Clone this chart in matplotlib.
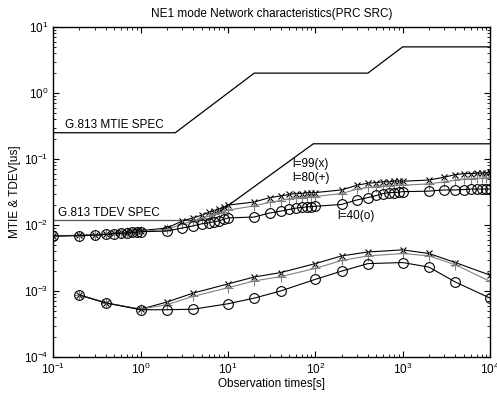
import matplotlib
matplotlib.use('Agg')
import matplotlib.pyplot as plt
import numpy as np

plt.rcParams['font.family'] = ['Liberation Sans', 'DejaVu Sans']

# observation times for MTIE
tau_mtie = [0.1, 0.2, 0.3, 0.4, 0.5, 0.6, 0.7, 0.8, 0.9,
            1, 2, 3, 4, 5, 6, 7, 8, 9,
            10, 20, 30, 40, 50, 60, 70, 80, 90,
            100, 200, 300, 400, 500, 600, 700, 800, 900,
            1000, 2000, 3000, 4000, 5000, 6000, 7000, 8000, 9000, 10000]

mtie_l99 = [0.0068, 0.0070, 0.0071, 0.0073, 0.0075, 0.0077, 0.0078, 0.0080, 0.0081,
            0.0082, 0.0090, 0.0115, 0.0128, 0.0141, 0.0155, 0.0165, 0.0175, 0.0185,
            0.0200, 0.0223, 0.0260, 0.0275, 0.0290, 0.0300, 0.0300, 0.0310, 0.0310,
            0.0310, 0.0340, 0.0400, 0.0430, 0.0440, 0.0450, 0.0450, 0.0460, 0.0460,
            0.0460, 0.0480, 0.0530, 0.0580, 0.0600, 0.0600, 0.0610, 0.0610, 0.0620, 0.0630]

mtie_l80 = [0.0068, 0.0069, 0.0070, 0.0072, 0.0074, 0.0076, 0.0077, 0.0078, 0.0079,
            0.0080, 0.0086, 0.0103, 0.0115, 0.0126, 0.0136, 0.0145, 0.0152, 0.0160,
            0.0168, 0.0195, 0.0220, 0.0235, 0.0250, 0.0260, 0.0260, 0.0270, 0.0270,
            0.0270, 0.0300, 0.0350, 0.0370, 0.0380, 0.0390, 0.0390, 0.0400, 0.0400,
            0.0400, 0.0420, 0.0450, 0.0480, 0.0500, 0.0500, 0.0510, 0.0510, 0.0520, 0.0520]

mtie_l40 = [0.0068, 0.0069, 0.0070, 0.0072, 0.0074, 0.0075, 0.0076, 0.0077, 0.0078,
            0.0079, 0.0081, 0.0090, 0.0097, 0.0104, 0.0108, 0.0112, 0.0116, 0.0122,
            0.0128, 0.0132, 0.0152, 0.0162, 0.0172, 0.0180, 0.0185, 0.0188, 0.0190,
            0.0192, 0.0205, 0.0240, 0.0260, 0.0280, 0.0300, 0.0310, 0.0310, 0.0315,
            0.0320, 0.0326, 0.0340, 0.0340, 0.0345, 0.0350, 0.0350, 0.0350, 0.0350, 0.0350]

# observation times for TDEV
tau_tdev = [0.2, 0.4, 1, 2, 4, 10, 20, 40, 100, 200, 400, 1000, 2000, 4000, 10000]
tdev_l99 = [0.00087, 0.00066, 0.00053, 0.00068, 0.00093, 0.00128, 0.00163, 0.0019,
            0.0026, 0.0034, 0.0039, 0.0042, 0.0037, 0.0027, 0.00174]
tdev_l80 = [0.00087, 0.00066, 0.00053, 0.00062, 0.00083, 0.00112, 0.00142, 0.00165,
            0.0022, 0.0029, 0.0034, 0.0037, 0.0034, 0.0025, 0.00140]
tdev_l40 = [0.00087, 0.00066, 0.00052, 0.00052, 0.00053, 0.00064, 0.00078, 0.0010,
            0.0015, 0.0020, 0.0026, 0.0027, 0.0023, 0.00137, 0.00078]

# G.813 masks
mtie_spec_tau = [0.1, 2.5, 20, 400, 1000, 10000]
mtie_spec_val = [0.25, 0.25, 2.0, 2.0, 5.0, 5.0]
tdev_flat_tau = [0.1, 6]
tdev_flat_val = [0.012, 0.012]
tdev_rise_tau = [6, 95, 10000]
tdev_rise_val = [0.012, 0.17, 0.17]

fig = plt.figure(figsize=(4.97, 4.0), dpi=100)
ax = fig.add_axes([0.107, 0.1075, 0.879, 0.825])

ax.plot(mtie_spec_tau, mtie_spec_val, color='black', lw=0.9)
ax.plot(tdev_flat_tau, tdev_flat_val, color='#555555', lw=0.9)
ax.plot(tdev_rise_tau, tdev_rise_val, color='black', lw=0.9)

# MTIE curves
ax.plot(tau_mtie, mtie_l99, color='black', lw=0.8, marker='x', ms=4.5, mew=0.8)
ax.plot(tau_mtie, mtie_l80, color='gray', lw=0.8, marker='+', ms=6.5, mew=0.8)
ax.plot(tau_mtie, mtie_l40, color='black', lw=0.8, marker='o', ms=7, mew=0.8, mfc='none')

# TDEV curves
ax.plot(tau_tdev, tdev_l99, color='black', lw=0.8, marker='x', ms=4.5, mew=0.8)
ax.plot(tau_tdev, tdev_l80, color='gray', lw=0.8, marker='+', ms=6.5, mew=0.8)
ax.plot(tau_tdev, tdev_l40, color='black', lw=0.8, marker='o', ms=7, mew=0.8, mfc='none')

ax.set_xscale('log')
ax.set_yscale('log')
ax.set_xlim(0.1, 10000)
ax.set_ylim(1e-4, 10)
ax.tick_params(which='both', direction='in', top=True, right=True, labelsize=8.5)
ax.tick_params(which='major', length=4)
ax.tick_params(which='minor', length=2)
for s in ax.spines.values():
    s.set_linewidth(1.0)

ax.text(0.135, 0.29, 'G.813 MTIE SPEC', fontsize=8.5)
ax.text(0.115, 0.0138, 'G.813 TDEV SPEC', fontsize=8.5)
ax.text(55, 0.075, 'l=99(x)', fontsize=8.5)
ax.text(55, 0.047, 'l=80(+)', fontsize=8.5)
ax.text(180, 0.0125, 'l=40(o)', fontsize=8.5)

ax.set_title('NE1 mode Network characteristics(PRC SRC)', fontsize=8.5, pad=7)
ax.set_xlabel('Observation times[s]', fontsize=8.5, labelpad=1)
ax.set_ylabel('MTIE & TDEV[us]', fontsize=8.5, labelpad=2)

fig.savefig('out.png', dpi=100)
